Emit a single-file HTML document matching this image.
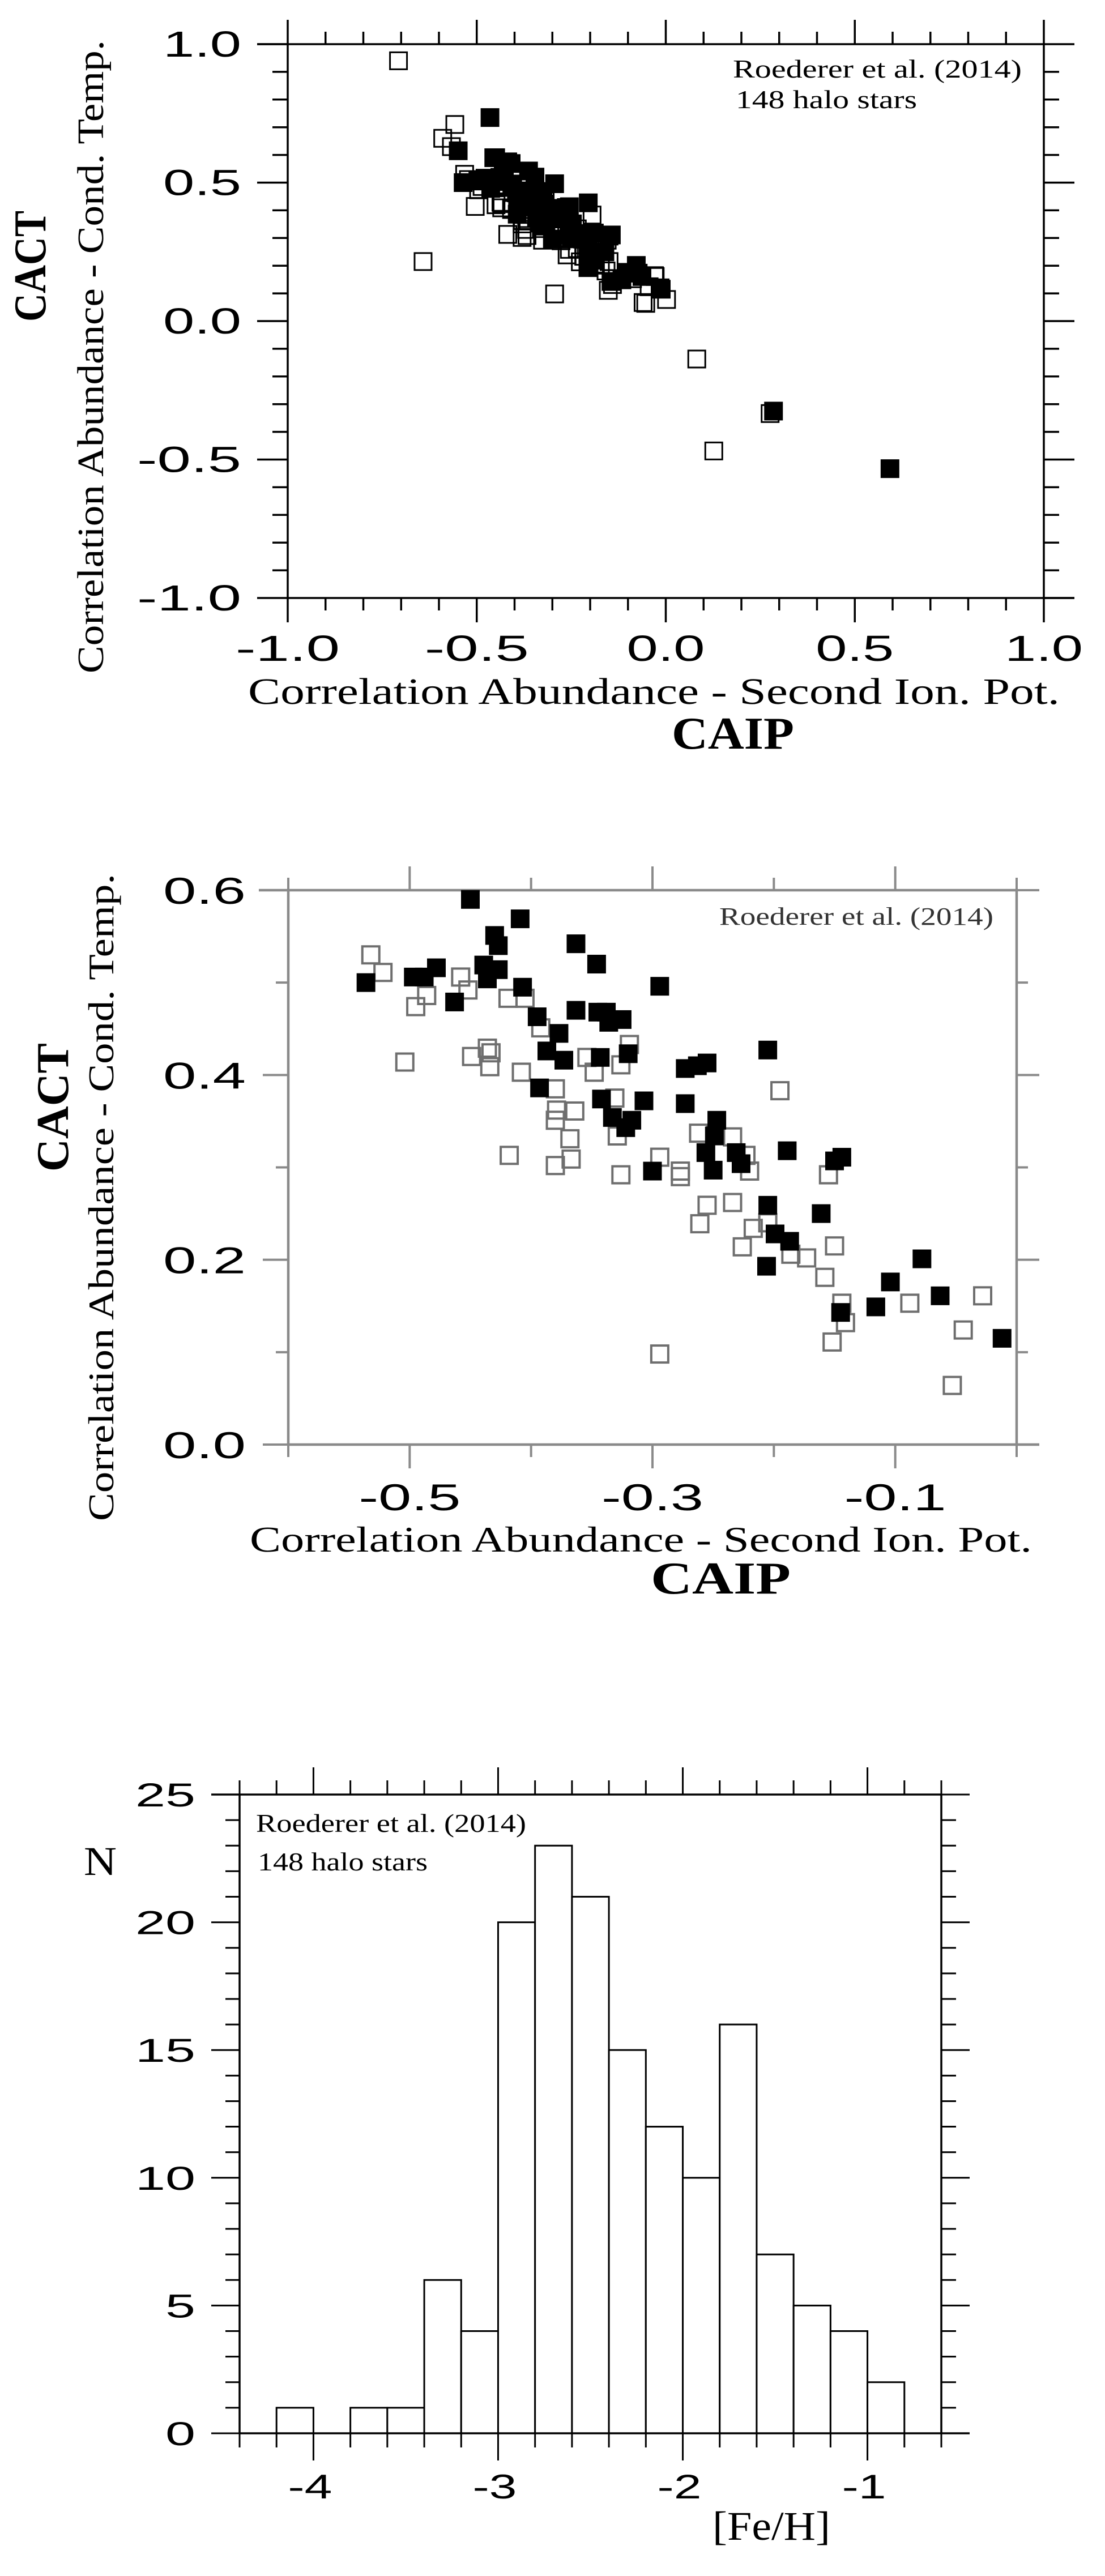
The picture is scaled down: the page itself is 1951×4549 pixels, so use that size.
<!DOCTYPE html>
<html><head><meta charset="utf-8"><title>CACT vs CAIP</title>
<style>
html,body{margin:0;padding:0;background:#fff;}
svg{display:block;}
text{font-family:"Liberation Sans",sans-serif;}
.serif{font-family:"Liberation Serif",serif;}
</style></head>
<body>
<svg id="fig" xmlns="http://www.w3.org/2000/svg" width="1951" height="4549" viewBox="0 0 1951 4549">
<rect width="1951" height="4549" fill="#fff"/>
<g id="p1"></g>
<g id="p2"></g>
<g id="p3"></g>
</svg>
<script>
// ---- data: zoomed scatter (CAIP, CACT) ----
const openX = [-0.532,-0.522,-0.495,-0.486,-0.504,-0.458,-0.452,-0.449,-0.436,-0.433,-0.434,-0.419,-0.405,-0.408,-0.392,-0.380,-0.379,-0.380,-0.364,-0.368,-0.367,-0.380,-0.418,-0.354,-0.348,-0.331,-0.329,-0.326,-0.319,-0.326,-0.294,-0.277,-0.277,-0.262,-0.255,-0.261,-0.234,-0.234,-0.223,-0.220,-0.226,-0.217,-0.205,-0.186,-0.173,-0.195,-0.155,-0.150,-0.158,-0.144,-0.141,-0.152,-0.088,-0.044,-0.028,-0.053,-0.294];
const openY = [0.530,0.511,0.474,0.486,0.414,0.506,0.492,0.420,0.429,0.424,0.409,0.483,0.483,0.403,0.451,0.385,0.362,0.351,0.361,0.331,0.309,0.302,0.313,0.419,0.403,0.375,0.334,0.411,0.433,0.292,0.311,0.296,0.290,0.337,0.259,0.239,0.333,0.262,0.313,0.296,0.214,0.234,0.240,0.206,0.202,0.383,0.292,0.215,0.181,0.153,0.132,0.111,0.153,0.124,0.161,0.064,0.098];
const fillX = [-0.450,-0.409,-0.430,-0.427,-0.363,-0.346,-0.536,-0.497,-0.488,-0.478,-0.463,-0.439,-0.436,-0.427,-0.407,-0.294,-0.395,-0.363,-0.377,-0.387,-0.373,-0.345,-0.338,-0.336,-0.325,-0.343,-0.320,-0.393,-0.342,-0.333,-0.322,-0.317,-0.307,-0.273,-0.273,-0.263,-0.255,-0.205,-0.300,-0.256,-0.249,-0.247,-0.250,-0.231,-0.227,-0.189,-0.150,-0.144,-0.161,-0.205,-0.199,-0.187,-0.206,-0.145,-0.116,-0.104,-0.078,-0.063,-0.012];
const fillY = [0.590,0.569,0.551,0.540,0.542,0.520,0.500,0.506,0.506,0.516,0.479,0.519,0.504,0.514,0.495,0.496,0.463,0.470,0.445,0.426,0.416,0.468,0.468,0.457,0.460,0.419,0.423,0.386,0.374,0.354,0.343,0.351,0.372,0.369,0.407,0.410,0.413,0.427,0.296,0.316,0.334,0.351,0.297,0.316,0.304,0.318,0.307,0.311,0.250,0.259,0.228,0.220,0.193,0.143,0.149,0.176,0.201,0.161,0.115];
// ---- extra points only visible in full-range plot ----
const extraOpenX = [-0.707,-0.558,-0.590,-0.567,-0.642,0.082,0.127,0.276,-0.060,0.002,-0.030];
const extraOpenY = [0.940,0.710,0.660,0.630,0.215,-0.137,-0.469,-0.334,0.067,0.078,0.164];
const extraFillX = [-0.465,-0.549,-0.455,-0.418,0.285,0.593,-0.015,-0.073];
const extraFillY = [0.735,0.615,0.590,0.575,-0.325,-0.533,0.120,0.173];
// ---- histogram ----
const binStarts = [-4.2,-4.0,-3.8,-3.6,-3.4,-3.2,-3.0,-2.8,-2.6,-2.4,-2.2,-2.0,-1.8,-1.6,-1.4,-1.2,-1.0];
const binCounts = [1,0,1,1,6,4,20,23,21,15,12,10,16,7,5,4,2];
const histXTicks = ["-4","-3","-2","-1"];
const histYTicks = ["0","5","10","15","20","25"];
const p1Ticks = ["-1.0","-0.5","0.0","0.5","1.0"];
const p2XTicks = ["-0.5","-0.3","-0.1"];
const p2YTicks = ["0.0","0.2","0.4","0.6"];

const NS = "http://www.w3.org/2000/svg";
function mk(parent, tag, attrs, txt){
  const e = document.createElementNS(NS, tag);
  for (const k in attrs) e.setAttribute(k, attrs[k]);
  if (txt !== undefined) e.textContent = txt;
  parent.appendChild(e);
  return e;
}
function lin(d0,d1,r0,r1){ return v => r0 + (v-d0)/(d1-d0)*(r1-r0); }

function frame(g, L, T, R, B, col, sw, extL, extR){
  // horizontal lines extend beyond frame
  let e;
  e = mk(g,'line',{x1:L-extL,y1:T,x2:R,y2:T,stroke:col,'stroke-width':sw});
  
  
  e = mk(g,'line',{x1:L,y1:B,x2:R+extR,y2:B,stroke:col,'stroke-width':sw});
  
  
  e = mk(g,'line',{x1:L,y1:T,x2:L,y2:B,stroke:col,'stroke-width':sw});
  
  
  e = mk(g,'line',{x1:R,y1:T,x2:R,y2:B,stroke:col,'stroke-width':sw});
  
  
}
function tickLine(g,x1,y1,x2,y2,col,sw){
  const e = mk(g,'line',{x1:x1,y1:y1,x2:x2,y2:y2,stroke:col,'stroke-width':sw});
  
  
}
function label(g, x, y, s, size, anchor, len, name, cls, weight, fill, rot){
  const a = {x:x,y:y,'font-size':size,'text-anchor':anchor,fill:fill||'#000'};
  if (len) { a.textLength = len; a.lengthAdjust = 'spacingAndGlyphs'; }
  if (cls) a['class'] = cls;
  if (weight) a['font-weight'] = weight;
  if (rot) a.transform = 'rotate(-90 '+x+' '+y+')';
  const e = mk(g,'text',a,s);
  
  
  return e;
}
function square(g, x, y, s, filled, col, sw, name){
  const e = mk(g,'rect',{x:x-s/2,y:y-s/2,width:s,height:s,fill:filled?'#000':'none',stroke:filled?'#000':col,'stroke-width':sw});
  
  
}

// ================= Plot 1 =================
(function(){
  const g = document.getElementById('p1');
  const L=508,R=1843,T=78,B=1056;
  const sx = lin(-1,1,L,R), sy = lin(-1,1,B,T);
  frame(g,L,T,R,B,'#000',3.5,54,54);
  for (let i=0;i<=20;i++){
    const v=-1+i*0.1, maj=(i%5===0), x=sx(v), y=sy(v);
    const len = maj?54:27;
    tickLine(g,x,B,x,B+(maj?43:22),'#000',3.5);
    tickLine(g,x,T,x,T-(maj?43:22),'#000',3.5);
    tickLine(g,L,y,L-len,y,'#000',3.5);
    tickLine(g,R,y,R+len,y,'#000',3.5);
  }
  p1Ticks.forEach(s=>{
    const v=parseFloat(s);
    label(g,sx(v),1167,s,64,'middle',46*s.length,'x-tick-label');
    label(g,426,sy(v)+22,s,64,'end',46*s.length,'y-tick-label');
  });
  label(g,1294,137,'Roederer et al. (2014)',46,'start',510,'source-note','serif');
  label(g,1299,191,'148 halo stars',46,'start',320,'sample-note','serif');
  label(g,438,1243,'Correlation  Abundance - Second Ion. Pot.',66,'start',1433,'x-axis-title','serif');
  label(g,1186,1322,'CAIP',80,'start',216,'x-axis-symbol','serif','bold');
  label(g,182,1189,'Correlation  Abundance - Cond. Temp.',66,'start',1118,'y-axis-title','serif',null,null,true);
  label(g,80,568,'CACT',80,'start',196,'y-axis-symbol','serif','bold',null,true);
  const ox = openX.concat(extraOpenX), oy = openY.concat(extraOpenY);
  ox.forEach((v,i)=>square(g,sx(v),sy(oy[i]),30,false,'#000',3,'open-point'));
  const fx = fillX.concat(extraFillX), fy = fillY.concat(extraFillY);
  fx.forEach((v,i)=>square(g,sx(v),sy(fy[i]),30,true,'#000',3,'filled-point'));
})();

// ================= Plot 2 =================
(function(){
  const g = document.getElementById('p2');
  const L=509,R=1795,T=1572,B=2551;
  const sx = lin(-0.6,0,L,R), sy = lin(0,0.6,B,T);
  const col='#8a8a8a';
  frame(g,L,T,R,B,col,4.5,52,40);
  for (let i=0;i<=6;i++){
    const v=-0.6+i*0.1, maj=(i%2===1), x=sx(v);
    tickLine(g,x,B,x,B+(maj?42:22),col,4);
    tickLine(g,x,T,x,T-(maj?42:22),col,4);
  }
  for (let i=0;i<=6;i++){
    const v=i*0.1, maj=(i%2===0), y=sy(v);
    tickLine(g,L,y,L-(maj?45:22),y,col,4);
    tickLine(g,R,y,R+(maj?40:20),y,col,4);
  }
  p2XTicks.forEach(s=>label(g,sx(parseFloat(s)),2667,s,66,'middle',180,'x-tick-label'));
  p2YTicks.forEach(s=>label(g,434,sy(parseFloat(s))+24,s,66,'end',146,'y-tick-label'));
  label(g,1270,1633,'Roederer et al. (2014)',44,'start',484,'source-note','serif',null,'#333');
  label(g,441,2740,'Correlation  Abundance - Second Ion. Pot.',64,'start',1381,'x-axis-title','serif');
  label(g,1149,2814,'CAIP',80,'start',247,'x-axis-symbol','serif','bold');
  label(g,200,2686,'Correlation  Abundance - Cond. Temp.',64,'start',1143,'y-axis-title','serif',null,null,true);
  label(g,120,2069,'CACT',80,'start',227,'y-axis-symbol','serif','bold',null,true);
  openX.forEach((v,i)=>square(g,sx(v),sy(openY[i]),30,false,'#6e6e6e',4,'open-point'));
  fillX.forEach((v,i)=>square(g,sx(v),sy(fillY[i]),31,true,'#000',2,'filled-point'));
})();

// ================= Plot 3: histogram =================
(function(){
  const g = document.getElementById('p3');
  const L=423,R=1662,T=3169,B=4297;
  const sx = lin(-4.4,-0.6,L,R), sy = lin(0,25,B,T);
  binStarts.forEach((b,i)=>{
    if (!binCounts[i]) return;
    const x0=sx(b), x1=sx(b+0.2), y=sy(binCounts[i]);
    const e = mk(g,'rect',{x:x0,y:y,width:x1-x0,height:B-y,fill:'#fff',stroke:'#000','stroke-width':3});
    
    
  });
  frame(g,L,T,R,B,'#000',3.5,50,50);
  for (let i=0;i<=19;i++){
    const v=-4.4+i*0.2, x=sx(v), maj=Math.abs(v-Math.round(v))<1e-6;
    tickLine(g,x,B,x,B+(maj?48:25),'#000',3);
    tickLine(g,x,T,x,T-(maj?48:25),'#000',3);
  }
  for (let i=0;i<=25;i++){
    const y=sy(i), maj=(i%5===0);
    tickLine(g,L,y,L-(maj?50:25),y,'#000',3);
    tickLine(g,R,y,R+(maj?50:26),y,'#000',3);
  }
  histXTicks.forEach(s=>label(g,sx(parseFloat(s))-6,4412,s,60,'middle',78,'x-tick-label'));
  histYTicks.forEach(s=>label(g,345,sy(parseFloat(s))+21,s,58,'end',53*s.length,'y-tick-label'));
  label(g,452,3235,'Roederer et al. (2014)',46,'start',477,'source-note','serif');
  label(g,455,3303,'148 halo stars',46,'start',300,'sample-note','serif');
  label(g,148,3311,'N',72,'start',58,'y-axis-title','serif');
  label(g,1258,4485,'[Fe/H]',72,'start',208,'x-axis-title','serif');
})();
</script>
</body></html>
